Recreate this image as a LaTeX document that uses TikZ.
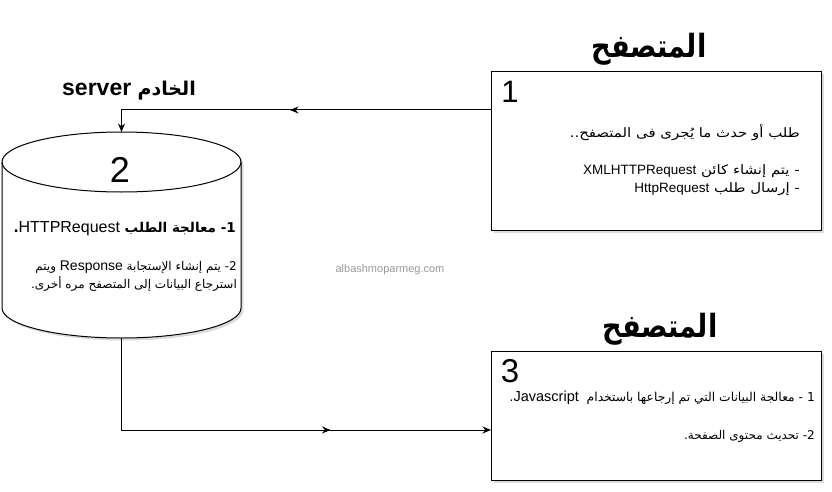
\documentclass[tikz,border=0pt]{standalone}
\usepackage{fontspec}
\setmainfont{Liberation Sans}
\newfontfamily\ar[Script=Arabic]{DejaVu Sans}
\newfontfamily\arw[Script=Arabic,FakeStretch=1.15]{DejaVu Sans}
\newfontfamily\art[Script=Arabic,FakeStretch=0.85]{DejaVu Sans}
\newfontfamily\lat{Liberation Sans}
\TeXXeTstate=1
\usetikzlibrary{arrows.meta,shadows,decorations.markings}
\newcommand{\fs}[1]{\fontsize{#1}{#1}\selectfont}
\begin{document}
\begin{tikzpicture}[x=1pt,y=-1pt,
  box/.style={draw,line width=1pt,fill=white,inner sep=0pt,anchor=north west,
    drop shadow={shadow xshift=2.5pt,shadow yshift=-2.5pt,opacity=0.35,fill=gray!80}},
  conn/.style={draw,line width=1pt,-{Stealth[length=8.5pt,width=7pt]}},
  midarrow/.style={postaction={decorate,decoration={markings,
    mark=at position #1 with {\arrow{Stealth[length=8.5pt,width=7pt]}}}}},
  txt/.style={inner sep=0pt,anchor=east,text=black},
  num/.style={inner sep=0pt,font=\lat},
  title/.style={inner sep=0pt,font=\art\bfseries\fs{32}}
]
\useasboundingbox (0,0) rectangle (832,492);

% Boxes
\node[box,minimum width=330pt,minimum height=159pt] (b1) at (491,71) {};
\node[box,minimum width=330pt,minimum height=129pt] (b3) at (491,351) {};

% Cylinder
\draw[line width=1pt,fill=white,
  drop shadow={shadow xshift=2.5pt,shadow yshift=-2.5pt,opacity=0.35,fill=gray!80}]
  (2,162) -- (2,308) arc[start angle=180,end angle=360,x radius=119.5pt,y radius=30pt]
  -- (241,162) arc[start angle=0,end angle=180,x radius=119.5pt,y radius=30pt] -- cycle;
\draw[line width=1pt] (2,162) arc[start angle=180,end angle=360,x radius=119.5pt,y radius=30pt];
\coordinate (cyltop) at (121.5,132);
\coordinate (cylbot) at (121.5,338);
\coordinate (c1) at (121.5,110);
\coordinate (c2) at (121.5,430);

% Connectors
\draw[conn,midarrow=201pt] (b1.west |- c1) -- (c1) -- (cyltop);
\draw[conn,midarrow=301pt] (cylbot) -- (c2) -- (b3.west |- c2);

% Titles
\node[title] (t1) at (649,49) {\beginR المتصفح\endR};
\node[title] (t3) at (660,329) {\beginR المتصفح\endR};
\node[inner sep=0pt,font=\bfseries\fs{23}] (srv) at (129,91) {{\lat server}\ {\ar\fs{19}\beginR الخادم\endR}};

% Numbers
\node[num,font=\lat\fs{31}] (n1) at (510,92) {1};
\node[num,font=\lat\fs{36}] (n2) at (120,170) {2};
\node[num,font=\lat\fs{33}] (n3) at (510,371) {3};

% Box 1 text
\node[txt,font=\arw\fs{13}] (b1l1) at (800,133) {\beginR طلب أو حدث ما يُجرى فى المتصفح..\endR};
\node[txt,font=\arw\fs{13}] (b1l2) at (800,171) {\beginR - يتم إنشاء كائن \beginL{\lat\fs{13.5}XMLHTTPRequest}\endL\endR};
\node[txt,font=\arw\fs{13}] (b1l3) at (800,189) {\beginR - إرسال طلب \beginL{\lat\fs{13.5}HttpRequest}\endL\endR};

% Cylinder text
\node[txt,font=\ar\bfseries\fs{13.5}] (c2l1) at (236,229) {\beginR 1- معالجة الطلب \beginL{\lat\mdseries\fs{16}HTTPRequest}\endL.\endR};
\node[txt,font=\ar\fs{12}] (c2l2) at (237,267) {\beginR 2- يتم إنشاء الإستجابة \beginL{\lat\fs{14}Response}\endL\ ويتم\endR};
\node[txt,font=\ar\fs{12}] (c2l3) at (237,284) {\beginR استرجاع البيانات إلى المتصفح مره أخرى.\endR};

% Box 3 text
\node[txt,font=\ar\fs{12.3}] (b3l1) at (815,398) {\beginR 1 - معالجة البيانات التي تم إرجاعها باستخدام \ \beginL{\lat\fs{14.5}Javascript}\endL.\endR};
\node[txt,font=\ar\fs{12}] (b3l2) at (815,436) {\beginR 2- تحديث محتوى الصفحة.\endR};

% Watermark
\node[inner sep=0pt,text=gray!80,font=\lat\fs{11}] (wm) at (390,270) {albashmoparmeg.com};
\end{tikzpicture}
\end{document}
